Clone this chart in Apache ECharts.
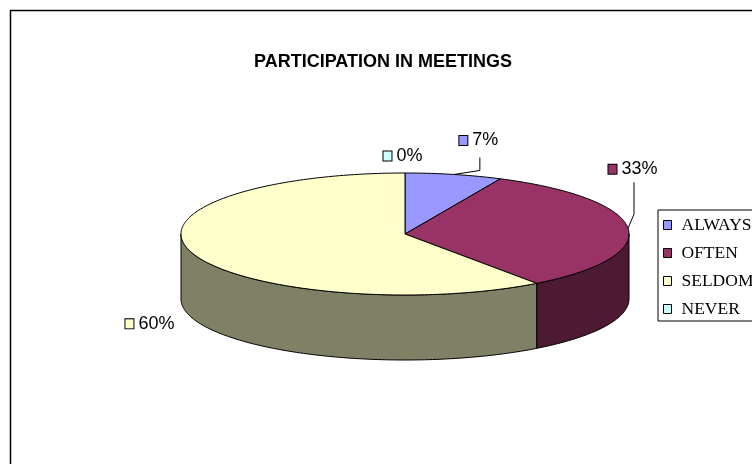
<!DOCTYPE html>
<html><head><meta charset="utf-8">
<script src="https://cdn.jsdelivr.net/npm/echarts@6/dist/echarts.min.js"></script>
<style>html,body{margin:0;padding:0;background:#fff}#c{width:752px;height:464px}</style>
</head><body><div id="c"></div>
<script>
// ---- data ----
const categories = ['ALWAYS', 'OFTEN', 'SELDOM', 'NEVER'];
const values = [7, 33, 60, 0];
const titleText = 'PARTICIPATION IN MEETINGS';

// ---- styles / layout ----
const topColors = ['#9999FF', '#993366', '#FFFFCC', '#CCFFFF'];
const sideColors = ['#4D4D80', '#4D1933', '#808066', '#668080'];
const PIE = { cx: 405, cy: 234, rx: 224, ry: 61, depth: 65 };
const labelOffsets = [[25, -34], [5, -59], [-42, 71], [-2, -17]];
const leaderBends = [[[26, -4], [26, -17]], [[6, -14], [6, -46]], null, null];

const total = values.reduce((a, b) => a + b, 0);
const starts = [];
{ let acc = 0; values.forEach(v => { starts.push(acc); acc += v; }); }

function pt(theta, dy) {
  return [PIE.cx + PIE.rx * Math.sin(theta), PIE.cy - PIE.ry * Math.cos(theta) + (dy || 0)];
}
function arcPts(a0, a1, dy) {
  const n = Math.max(2, Math.ceil(Math.abs(a1 - a0) / (Math.PI / 180)));
  const out = [];
  for (let k = 0; k <= n; k++) out.push(pt(a0 + (a1 - a0) * k / n, dy));
  return out;
}
function angles(i, v) {
  const a0 = starts[i] / total * 2 * Math.PI;
  const a1 = (starts[i] + v) / total * 2 * Math.PI;
  return [a0, a1, (a0 + a1) / 2];
}

function renderPie(params, api) {
  const i = params.dataIndex;
  const v = api.value(1);
  const [a0, a1] = angles(i, v);
  const children = [];
  if (v > 0) {
    const s0 = Math.max(a0, Math.PI / 2), s1 = Math.min(a1, 3 * Math.PI / 2);
    if (s1 > s0) {
      const pts = arcPts(s0, s1, 0).concat(arcPts(s1, s0, PIE.depth));
      children.push({ type: 'polygon', shape: { points: pts },
        style: { fill: sideColors[i], stroke: '#000', lineWidth: 1 } });
    }
    const topPts = [[PIE.cx, PIE.cy]].concat(arcPts(a0, a1, 0));
    children.push({ type: 'polygon', shape: { points: topPts },
      style: { fill: topColors[i], stroke: '#000', lineWidth: 1, lineJoin: 'round' } });
  }
  return { type: 'group', children };
}

function renderLabels(params, api) {
  const i = params.dataIndex;
  const v = api.value(1);
  const [, , mid] = angles(i, v);
  const anchor = pt(mid, 0);
  const off = labelOffsets[i];
  const children = [];
  const lb = leaderBends[i];
  if (lb) {
    children.push({ type: 'polyline', shape: { points: [anchor,
      [anchor[0] + lb[0][0], anchor[1] + lb[0][1]],
      [anchor[0] + lb[1][0], anchor[1] + lb[1][1]]] },
      style: { fill: null, stroke: '#000', lineWidth: 1 } });
  }
  const pct = Math.round(v / total * 100) + '%';
  children.push({ type: 'text', x: anchor[0] + off[0], y: anchor[1] + off[1],
    style: { text: '{b|}{t|' + pct + '}', align: 'center', verticalAlign: 'middle',
      rich: {
        b: { width: 8, height: 9, backgroundColor: topColors[i], borderColor: '#000', borderWidth: 1 },
        t: { fontFamily: 'Liberation Sans', fontSize: 18, color: '#000', padding: [0, 0, 0, 5] }
      } } });
  return { type: 'group', children };
}

const chart = echarts.init(document.getElementById('c'), null, { renderer: 'canvas' });
chart.setOption({
  animation: false,
  backgroundColor: '#fff',
  title: { text: titleText, left: 383, top: 53, padding: 0, textAlign: 'center',
    textStyle: { fontFamily: 'Liberation Sans', fontWeight: 'bold', fontSize: 18, color: '#000' } },
  graphic: [{ type: 'rect', z: -10, shape: { x: 10.5, y: 10.5, width: 800, height: 500 },
    style: { fill: null, stroke: '#000', lineWidth: 1.5 } }],
  legend: {
    orient: 'vertical', left: 658, top: 210, padding: [6, 40, 3, 5], itemGap: 10,
    itemWidth: 8, itemHeight: 9, icon: 'rect', selectedMode: false,
    borderColor: '#000', borderWidth: 1, backgroundColor: '#fff',
    itemStyle: { borderColor: '#000', borderWidth: 1 },
    textStyle: { fontFamily: 'Liberation Serif', fontSize: 17.5, lineHeight: 17, color: '#000', padding: [0, 0, 0, 5] },
    data: categories
  },
  series: [
    { type: 'pie', name: 'legendSource', radius: [0, 0], center: [-100, -100], silent: true,
      label: { show: false }, labelLine: { show: false },
      data: categories.map((c, i) => ({ name: c, value: values[i], itemStyle: { color: topColors[i] } })) },
    { type: 'custom', name: 'pie3d', coordinateSystem: 'none', renderItem: renderPie, z: 2,
      data: categories.map((c, i) => [i, values[i]]) },
    { type: 'custom', name: 'labels', coordinateSystem: 'none', renderItem: renderLabels, z: 3,
      data: categories.map((c, i) => [i, values[i]]) }
  ]
});
</script></body></html>
